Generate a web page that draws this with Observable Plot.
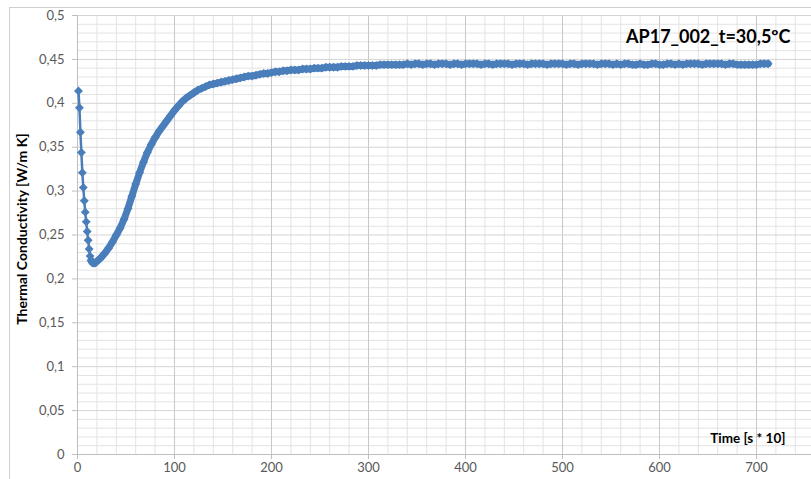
<!DOCTYPE html>
<html>
<head>
<meta charset="utf-8">
<script src="https://cdn.jsdelivr.net/npm/d3@7"></script>
<script src="https://cdn.jsdelivr.net/npm/@observablehq/plot@0.6"></script>
<style>
  html, body { margin: 0; padding: 0; background: #fff; overflow: hidden; width: 811px; height: 479px; }
  #chart { position: absolute; left: 0; top: 0; width: 873px; height: 479px; }
  #chart svg { max-width: none !important; }
  #border { position: absolute; left: 9px; top: 7px; width: 900px; height: 600px; border: 1px solid #d0d0d0; box-sizing: border-box; pointer-events: none; }
</style>
</head>
<body>
<div id="border"></div>
<div id="chart"></div>
<script>
// ---- data ----
const chartTitle = "AP17_002_t=30,5ºC";
const yLabel = "Thermal Conductivity [W/m K]";
const xLabel = "Time [s * 10]";

const xTicks = [0, 100, 200, 300, 400, 500, 600, 700];
const xMinor = [20, 40, 60, 80, 120, 140, 160, 180, 220, 240, 260, 280, 320, 340, 360, 380,
  420, 440, 460, 480, 520, 540, 560, 580, 620, 640, 660, 680, 720, 740, 760, 780];
const xMajor = [100, 200, 300, 400, 500, 600, 700, 800];
const yTicks = [0, 0.05, 0.1, 0.15, 0.2, 0.25, 0.3, 0.35, 0.4, 0.45, 0.5];
const yMinor = [0.01, 0.02, 0.03, 0.04, 0.06, 0.07, 0.08, 0.09, 0.11, 0.12, 0.13, 0.14,
  0.16, 0.17, 0.18, 0.19, 0.21, 0.22, 0.23, 0.24, 0.26, 0.27, 0.28, 0.29,
  0.31, 0.32, 0.33, 0.34, 0.36, 0.37, 0.38, 0.39, 0.41, 0.42, 0.43, 0.44,
  0.46, 0.47, 0.48, 0.49];

// time (s*10) and thermal conductivity (W/m K)
const timeEarly  = [1, 2, 3, 4, 5, 6, 7, 8, 9, 10, 11, 12, 13, 14, 15, 16, 17, 18, 19, 20];
const valueEarly = [0.414, 0.395, 0.367, 0.344, 0.321, 0.304, 0.289, 0.276, 0.265, 0.254,
  0.244, 0.234, 0.226, 0.221, 0.219, 0.218, 0.218, 0.218, 0.219, 0.220];

const timeLate = [24, 28, 32, 36, 40, 44, 48, 52, 56, 60, 64, 68, 72, 76, 80, 84, 88, 92, 96, 100,
  104, 108, 112, 116, 120, 124, 128, 132, 136, 140, 144, 148, 152, 156, 160, 164, 168, 172, 176, 180,
  184, 188, 192, 196, 200, 204, 208, 212, 216, 220, 224, 228, 232, 236, 240, 244, 248, 252, 256, 260,
  264, 268, 272, 276, 280, 284, 288, 292, 296, 300, 304, 308, 312, 316, 320, 324, 328, 332, 336, 340,
  344, 348, 352, 356, 360, 364, 368, 372, 376, 380, 384, 388, 392, 396, 400, 404, 408, 412, 416, 420,
  424, 428, 432, 436, 440, 444, 448, 452, 456, 460, 464, 468, 472, 476, 480, 484, 488, 492, 496, 500,
  504, 508, 512, 516, 520, 524, 528, 532, 536, 540, 544, 548, 552, 556, 560, 564, 568, 572, 576, 580,
  584, 588, 592, 596, 600, 604, 608, 612, 616, 620, 624, 628, 632, 636, 640, 644, 648, 652, 656, 660,
  664, 668, 672, 676, 680, 684, 688, 692, 696, 700, 704, 708, 712];
const valueLate = [0.224, 0.229, 0.235, 0.242, 0.250, 0.258, 0.268, 0.280, 0.294, 0.308,
  0.321, 0.333, 0.344, 0.353, 0.361, 0.368, 0.374, 0.380, 0.386, 0.392,
  0.397, 0.402, 0.406, 0.409, 0.412, 0.415, 0.417, 0.419, 0.421, 0.422,
  0.423, 0.424, 0.425, 0.426, 0.427, 0.428, 0.429, 0.430, 0.431, 0.431,
  0.432, 0.433, 0.434, 0.434, 0.435, 0.436, 0.436, 0.437, 0.437, 0.438,
  0.438, 0.438, 0.439, 0.439, 0.439, 0.440, 0.440, 0.440, 0.441, 0.441,
  0.441, 0.441, 0.442, 0.442, 0.442, 0.442, 0.443, 0.443, 0.443, 0.443,
  0.443, 0.443, 0.444, 0.444, 0.444, 0.444, 0.444, 0.444, 0.444, 0.445,
  0.444, 0.445, 0.445, 0.444, 0.445, 0.445, 0.444, 0.445, 0.445, 0.445,
  0.444, 0.445, 0.445, 0.444, 0.445, 0.445, 0.445, 0.445, 0.444, 0.445,
  0.445, 0.444, 0.445, 0.445, 0.445, 0.445, 0.444, 0.445, 0.445, 0.445,
  0.444, 0.445, 0.445, 0.445, 0.445, 0.444, 0.445, 0.445, 0.445, 0.445,
  0.444, 0.445, 0.445, 0.444, 0.445, 0.445, 0.445, 0.445, 0.444, 0.445,
  0.445, 0.445, 0.444, 0.445, 0.444, 0.445, 0.445, 0.444, 0.444, 0.445,
  0.444, 0.444, 0.445, 0.445, 0.444, 0.444, 0.445, 0.445, 0.444, 0.445,
  0.444, 0.445, 0.445, 0.445, 0.445, 0.444, 0.445, 0.445, 0.445, 0.445,
  0.445, 0.444, 0.445, 0.445, 0.444, 0.444, 0.444, 0.444, 0.444, 0.444,
  0.445, 0.445, 0.445];

const series = [
  ...timeEarly.map((t, i) => ({t, v: valueEarly[i]})),
  ...timeLate.map((t, i) => ({t, v: valueLate[i]}))
];
// densely sampled part (points overlap into a solid band in the original)
const denseSeries = series.filter(d => d.t >= 14);

const blue = "#4a7ebb";
const font = "Lato, 'Open Sans', sans-serif";
const fmt = d => String(d).replace(".", ",");

const chart = Plot.plot({
  width: 873,
  height: 479,
  marginLeft: 77,
  marginRight: 20,
  marginTop: 15,
  marginBottom: 25,
  style: {fontFamily: font, fontSize: "13px", background: "transparent", overflow: "visible", maxWidth: "none"},
  x: {domain: [0, 800]},
  y: {domain: [0, 0.5]},
  marks: [
    Plot.ruleX(xMinor, {stroke: "#e3e3e3", strokeWidth: 1}),
    Plot.ruleY(yMinor, {stroke: "#e3e3e3", strokeWidth: 1}),
    Plot.ruleX(xMajor, {stroke: "#c8c8c8", strokeWidth: 1}),
    Plot.ruleY(yTicks.slice(1), {stroke: "#d4d4d4", strokeWidth: 1}),
    Plot.ruleX([0], {stroke: "#bfbfbf"}),
    Plot.ruleY([0], {stroke: "#bfbfbf"}),
    Plot.axisX({ticks: xTicks, tickFormat: fmt, tickSize: 5, tickPadding: 3, stroke: "#bfbfbf", fill: "#595959", fontSize: 13, label: null}),
    Plot.axisY({ticks: yTicks, tickFormat: fmt, tickSize: 5, tickPadding: 8, stroke: "#bfbfbf", fill: "#595959", fontSize: 13, label: null}),
    Plot.line(series, {x: "t", y: "v", stroke: blue, strokeWidth: 2.5}),
    Plot.line(denseSeries, {x: "t", y: "v", stroke: blue, strokeWidth: 7, strokeLinejoin: "round", strokeLinecap: "round"}),
    Plot.dot(series, {x: "t", y: "v", symbol: "diamond2", r: 4, fill: blue, stroke: null}),
    Plot.text([chartTitle], {frameAnchor: "top-right", text: d => d, textAnchor: "end", lineAnchor: "middle", dx: -63, dy: 22, fontSize: 18, fontWeight: "bold", fill: "#000"}),
    Plot.text([xLabel], {frameAnchor: "bottom-right", text: d => d, textAnchor: "end", lineAnchor: "middle", dx: -68, dy: -16, fontSize: 13.5, fontWeight: "bold", fill: "#000"}),
    Plot.text([yLabel], {frameAnchor: "left", text: d => d, textAnchor: "middle", lineAnchor: "middle", rotate: -90, dx: -55, dy: -6, fontSize: 14, fontWeight: "bold", fill: "#000"})
  ]
});
document.getElementById("chart").appendChild(chart);
</script>
</body>
</html>
